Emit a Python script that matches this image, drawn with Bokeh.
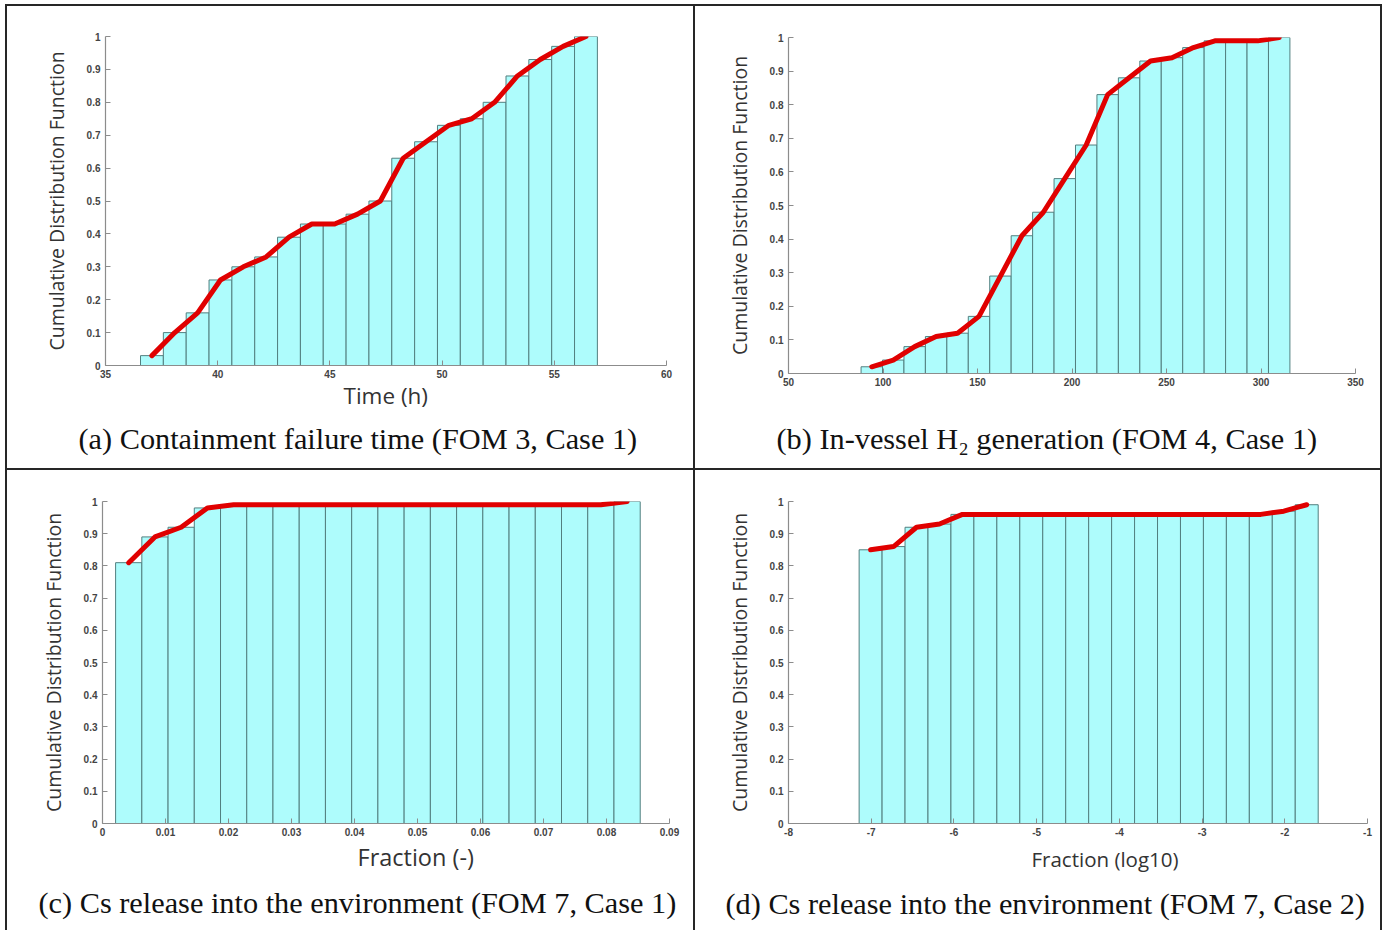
import numpy as np
from bokeh.plotting import figure
from bokeh.layouts import row, column
from bokeh.models import Range1d, FixedTicker, PrintfTickFormatter, Title
from bokeh.embed import file_html
from bokeh.resources import INLINE

# ---------------- data ----------------
# (a) Containment failure time
a_bin_range = (36.56, 56.92)
a_cdf = [0.03, 0.10, 0.16, 0.26, 0.30, 0.33, 0.39, 0.43, 0.43, 0.46,
         0.50, 0.63, 0.68, 0.73, 0.75, 0.80, 0.88, 0.93, 0.97, 1.00]
a_xticks = [35, 40, 45, 50, 55, 60]

# (b) In-vessel H2 generation
b_bin_range = (88.4, 315.3)
b_cdf = [0.02, 0.04, 0.08, 0.11, 0.12, 0.17, 0.29, 0.41, 0.48, 0.58,
         0.68, 0.83, 0.88, 0.93, 0.94, 0.97, 0.99, 0.99, 0.99, 1.00]
b_xticks = [50, 100, 150, 200, 250, 300, 350]

# (c) Cs release, case 1
c_bin_range = (0.00208, 0.08535)
c_cdf = [0.81, 0.89, 0.92, 0.98, 0.99, 0.99, 0.99, 0.99, 0.99, 0.99,
         0.99, 0.99, 0.99, 0.99, 0.99, 0.99, 0.99, 0.99, 0.99, 1.00]
c_xticks = [0, 0.01, 0.02, 0.03, 0.04, 0.05, 0.06, 0.07, 0.08, 0.09]

# (d) Cs release, case 2 (log10)
d_bin_range = (-7.146, -1.596)
d_cdf = [0.85, 0.86, 0.92, 0.93, 0.96, 0.96, 0.96, 0.96, 0.96, 0.96,
         0.96, 0.96, 0.96, 0.96, 0.96, 0.96, 0.96, 0.96, 0.97, 0.99]
d_xticks = [-8, -7, -6, -5, -4, -3, -2, -1]

y_ticks = [0, 0.1, 0.2, 0.3, 0.4, 0.5, 0.6, 0.7, 0.8, 0.9, 1]

captions = [
    "(a) Containment failure time (FOM 3, Case 1)",
    "(b) In-vessel H\u2082 generation (FOM 4, Case 1)",
    "(c) Cs release into the environment (FOM 7, Case 1)",
    "(d) Cs release into the environment (FOM 7, Case 2)",
]
x_labels = ["Time (h)", None, "Fraction (-)", "Fraction (log10)"]
y_label = "Cumulative Distribution Function"

# ---------------- styling ----------------
BAR_FILL = "#aefcfc"
BAR_LINE = "#527f7f"
RED = "#e00000"
AXIS = "#8c8c8c"
TICK_TXT = "#444444"


def make_cell(cdf, bin_range, xr, xticks, W, H, borders, xlabel, xl_spec,
              caption, cap_spec):
    left, right, top, bottom = borders
    p = figure(width=W, height=H, output_backend="svg", toolbar_location=None,
               tools="", x_range=Range1d(*xr), y_range=Range1d(0, 1),
               min_border_left=left, min_border_right=right,
               min_border_top=top, min_border_bottom=bottom,
               background_fill_color="white", border_fill_color="white",
               outline_line_color=None)
    p.grid.visible = False

    n = len(cdf)
    edges = np.linspace(bin_range[0], bin_range[1], n + 1)
    centers = (edges[:-1] + edges[1:]) / 2
    p.quad(left=edges[:-1], right=edges[1:], bottom=0, top=cdf,
           fill_color=BAR_FILL, line_color=BAR_LINE, line_width=1)
    p.line(centers, cdf, line_color=RED, line_width=5,
           line_join="round", line_cap="round")

    for ax, ticks in ((p.xaxis[0], xticks), (p.yaxis[0], y_ticks)):
        ax.ticker = FixedTicker(ticks=ticks)
        ax.formatter = PrintfTickFormatter(format="%g")
        ax.axis_line_color = AXIS
        ax.axis_line_width = 1.2
        ax.major_tick_line_color = AXIS
        ax.major_tick_in = 5
        ax.major_tick_out = 0
        ax.minor_tick_line_color = None
        ax.major_label_text_font = "Liberation Sans"
        ax.major_label_text_font_style = "bold"
        ax.major_label_text_font_size = "10px"
        ax.major_label_text_color = TICK_TXT
    p.xaxis.major_label_standoff = 4
    p.yaxis.major_label_standoff = 5

    p.yaxis.axis_label = y_label
    p.yaxis.axis_label_text_font = "Open Sans"
    p.yaxis.axis_label_text_font_style = "normal"
    p.yaxis.axis_label_text_font_size = "19.5px"
    p.yaxis.axis_label_text_color = "#333333"
    p.yaxis.axis_label_standoff = 14

    off, so, fs = xl_spec
    p.add_layout(Title(text=xlabel if xlabel else " ", align="left", offset=off,
                       standoff=so, text_font="Open Sans", text_font_size=fs,
                       text_font_style="normal", text_color="#333333"), "below")
    off, so = cap_spec
    p.add_layout(Title(text=caption, align="left", offset=off, standoff=so,
                       text_font="Liberation Serif", text_font_size="30.3px",
                       text_font_style="normal", text_color="#111111"), "below")
    return column(p, styles={"background-color": "white"})


cell_a = make_cell(a_cdf, a_bin_range, (35, 60), a_xticks, 686, 462,
                   (98, 27, 30, 103), x_labels[0], (238, -6, "22.5px"),
                   captions[0], (-27, 24))
cell_b = make_cell(b_cdf, b_bin_range, (50, 350), b_xticks, 685, 462,
                   (93, 25, 31, 95), x_labels[1], (0, -8, "22.5px"),
                   captions[1], (-12, 12))
cell_c = make_cell(c_cdf, c_bin_range, (0, 0.09), c_xticks, 686, 462,
                   (95, 24, 31, 109), x_labels[2], (255, 0, "23.5px"),
                   captions[2], (-64, 22))
cell_d = make_cell(d_cdf, d_bin_range, (-8, -1), d_xticks, 685, 462,
                   (93, 13, 31, 109), x_labels[3], (243, 8, "20.5px"),
                   captions[3], (-63, 16))

grid = column(row(cell_a, cell_b, spacing=2), row(cell_c, cell_d, spacing=2),
              spacing=2,
              styles={"background-color": "#262626", "padding": "2px",
                      "margin-left": "5px", "margin-top": "4px"})

open("out.html", "w").write(file_html(grid, INLINE))
